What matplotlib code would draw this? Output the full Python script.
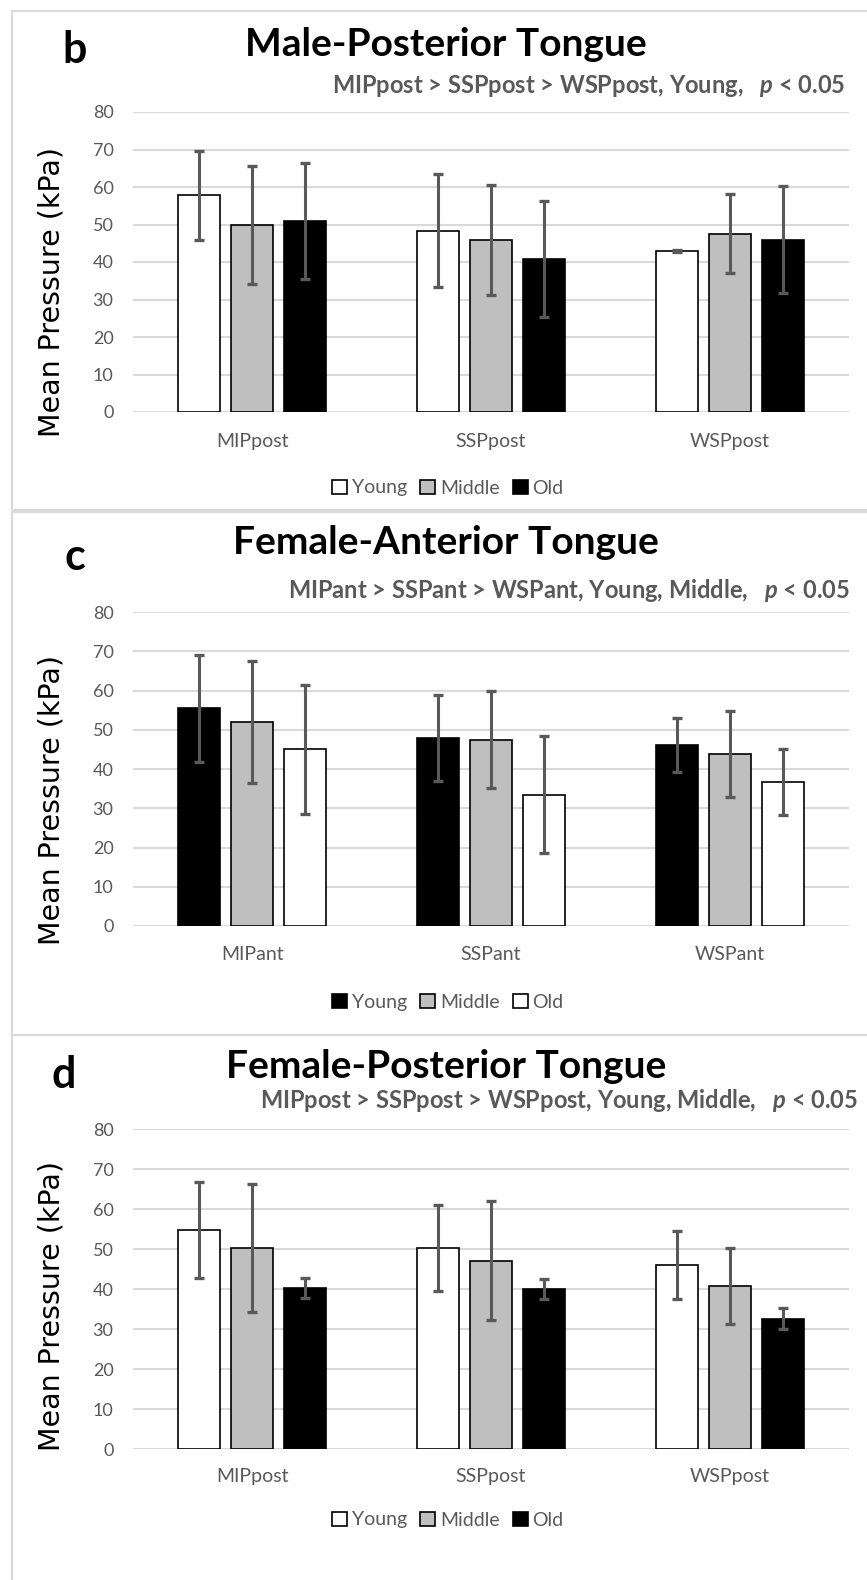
import matplotlib
matplotlib.use("Agg")
import matplotlib.pyplot as plt
from matplotlib.patches import Rectangle
import numpy as np

plt.rcParams['mathtext.fontset'] = 'custom'
plt.rcParams['mathtext.it'] = 'Lato:italic:bold'
plt.rcParams['mathtext.rm'] = 'Lato:bold'

W, H = 867, 1580
GRAY = '#595959'
SANS = 'Lato'

groups = ['Young', 'Middle', 'Old']

# panel b - male posterior
b_cats = ['MIPpost', 'SSPpost', 'WSPpost']
b_young = [57.8, 48.4, 42.9]
b_young_err = [11.8, 15.0, 0.3]
b_middle = [49.8, 45.9, 47.6]
b_middle_err = [15.7, 14.7, 10.5]
b_old = [50.9, 40.9, 46.0]
b_old_err = [15.5, 15.5, 14.2]

# panel c - female anterior
c_cats = ['MIPant', 'SSPant', 'WSPant']
c_young = [55.5, 47.9, 46.2]
c_young_err = [13.6, 10.9, 6.9]
c_middle = [51.9, 47.5, 43.8]
c_middle_err = [15.5, 12.4, 10.9]
c_old = [45.0, 33.5, 36.7]
c_old_err = [16.4, 14.9, 8.5]

# panel d - female posterior
d_cats = ['MIPpost', 'SSPpost', 'WSPpost']
d_young = [54.7, 50.3, 45.9]
d_young_err = [12.0, 10.7, 8.5]
d_middle = [50.3, 47.1, 40.7]
d_middle_err = [16.0, 14.8, 9.5]
d_old = [40.2, 40.0, 32.6]
d_old_err = [2.5, 2.5, 2.6]

yticks = [0, 10, 20, 30, 40, 50, 60, 70, 80]


def fx(x):
    return x / W


def fy(y):
    return 1 - y / H


fig = plt.figure(figsize=(W / 100, H / 100), dpi=100)


def panel(box, ax_box, letter, letter_xy, title, title_y, sub, sub_xy,
          cats, vals, errs, colors, label_y, tick_y, legend_y):
    # light frame around each panel
    x0, y0, x1, y1 = box
    fig.patches.append(Rectangle((fx(x0), fy(y1)), fx(x1 - x0), (y1 - y0) / H,
                                 transform=fig.transFigure, fill=False,
                                 edgecolor='#d9d9d9', lw=1.5))
    l, t, r, b = ax_box
    ax = fig.add_axes([fx(l), fy(b), fx(r - l), (b - t) / H])
    x = np.arange(len(cats))
    w = 0.176
    off = 0.222
    handles = []
    for i, (v, e, c) in enumerate(zip(vals, errs, colors)):
        pos = x + (i - 1) * off
        h = ax.bar(pos, v, w, color=c, edgecolor='black', lw=1.2, zorder=3,
                   label=groups[i])
        ax.errorbar(pos, v, yerr=e, fmt='none', ecolor=GRAY, elinewidth=2.2,
                    capsize=3.5, capthick=2.4, zorder=4)
        handles.append(h)
    ax.set_xlim(-0.5, 2.5)
    ax.set_ylim(0, 80)
    ax.set_yticks(yticks)
    ax.grid(axis='y', color='#d9d9d9', lw=1.5, zorder=0)
    ax.set_axisbelow(True)
    for s in ax.spines.values():
        s.set_visible(False)
    ax.tick_params(length=0, labelsize=13, labelcolor=GRAY)
    ax.set_xticks(x)
    ax.set_xticklabels(cats, fontfamily=SANS, fontsize=14)
    for lab in ax.get_yticklabels():
        lab.set_fontfamily(SANS)
    ax.tick_params(axis='y', pad=14)
    ax.tick_params(axis='x', pad=(tick_y - b - 7) / 1.389)
    ax.set_ylabel('Mean Pressure (kPa)', fontsize=20.5, color='black')
    ax.yaxis.set_label_coords(-0.094, label_y)

    fig.text(fx(letter_xy[0]), fy(letter_xy[1]), letter, fontsize=31,
             fontweight='bold', family=SANS, ha='center', va='center')
    fig.text(fx(446), fy(title_y), title, fontsize=28, fontweight='bold',
             family=SANS, ha='center', va='center')
    fig.text(fx(sub_xy[0]), fy(sub_xy[1]), sub, fontsize=17, fontweight='bold',
             family=SANS, color=GRAY, ha='right', va='center')
    ax.legend(handles=handles, loc='center', ncol=3, frameon=False,
              bbox_to_anchor=(fx(448), fy(legend_y)),
              bbox_transform=fig.transFigure, handlelength=0.75,
              handleheight=0.75, handletextpad=0.25, columnspacing=0.7,
              prop={'family': SANS, 'size': 14}, labelcolor=GRAY)
    return ax


panel((12, 11, 880, 510), (133, 112, 849, 412), 'b', (75, 50),
      'Male-Posterior Tongue', 45,
      'MIPpost > SSPpost > WSPpost, Young,   $p$ < 0.05', (845, 86),
      b_cats, [b_young, b_middle, b_old], [b_young_err, b_middle_err, b_old_err],
      ['white', '#bfbfbf', 'black'], 0.40, 440, 488)

panel((12, 512, 880, 1035), (133, 612, 849, 926), 'c', (75, 557),
      'Female-Anterior Tongue', 543,
      'MIPant > SSPant > WSPant, Young, Middle,   $p$ < 0.05', (850, 590),
      c_cats, [c_young, c_middle, c_old], [c_young_err, c_middle_err, c_old_err],
      ['black', '#bfbfbf', 'white'], 0.40, 953, 1002)

panel((12, 1035, 880, 1600), (133, 1129, 849, 1449), 'd', (64, 1075),
      'Female-Posterior Tongue', 1067,
      'MIPpost > SSPpost > WSPpost, Young, Middle,   $p$ < 0.05', (858, 1100),
      d_cats, [d_young, d_middle, d_old], [d_young_err, d_middle_err, d_old_err],
      ['white', '#bfbfbf', 'black'], 0.447, 1475, 1520)

fig.savefig('out.png', dpi=100)
